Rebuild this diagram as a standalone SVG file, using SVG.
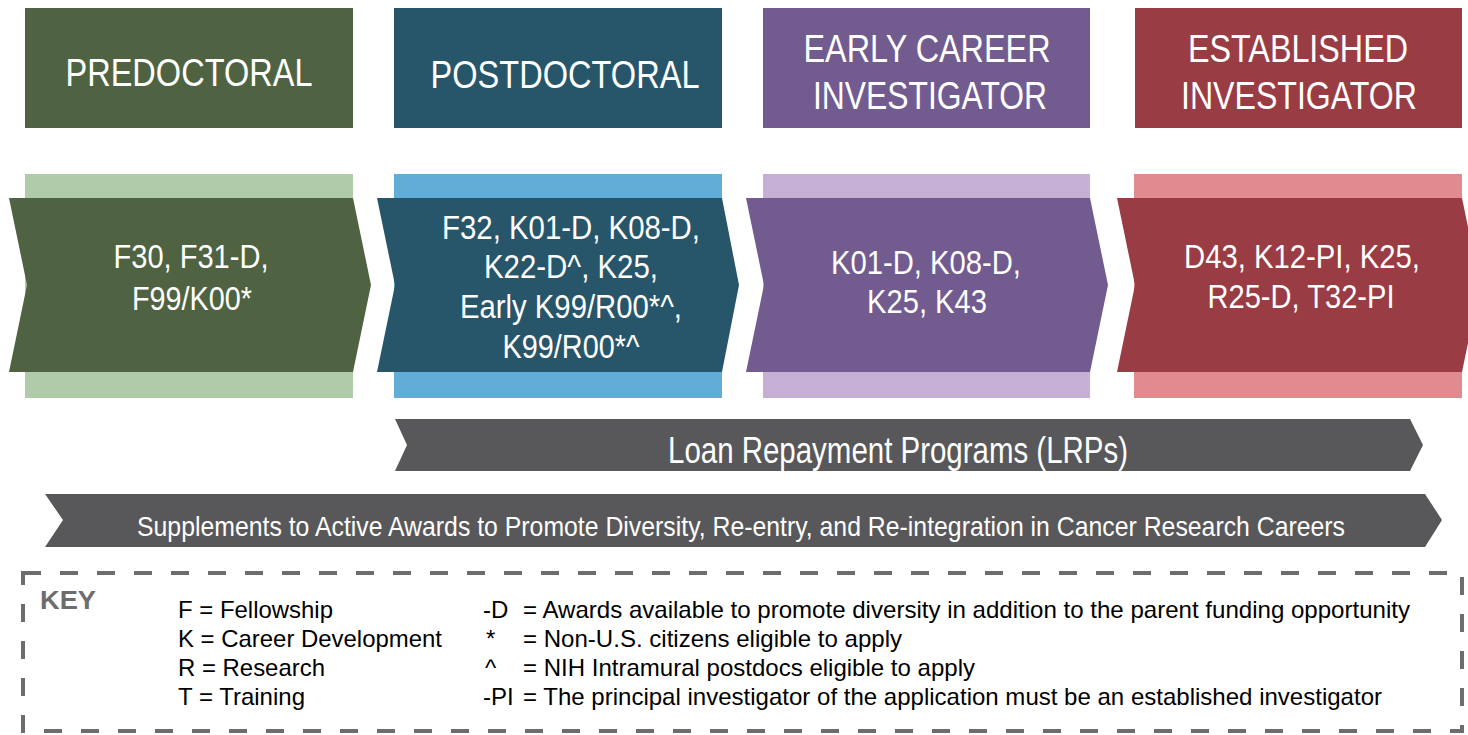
<svg xmlns="http://www.w3.org/2000/svg" width="1468" height="735" viewBox="0 0 1468 735">
<style>
text{font-family:"Liberation Sans Narrow","Liberation Sans",Arial,sans-serif}
.w{fill:#ffffff;text-anchor:middle}
.hd{font-size:38px}
.ch{font-size:34px}
.k{font-size:24px;fill:#000000}
.pre-d{fill:#4f6342}.pre-l{fill:#b0cba7}
.pos-d{fill:#27566b}.pos-l{fill:#62acd8}
.ear-d{fill:#725b8f}.ear-l{fill:#c5afd5}
.est-d{fill:#9a3c44}.est-l{fill:#e28b8e}
.bar{fill:#58585a}
</style>
<rect width="1468" height="735" fill="#ffffff"/>

<g id="head-predoc">
<rect class="pre-d" x="25" y="8" width="328" height="120"/>
<text class="w hd" x="189" y="86" textLength="247" lengthAdjust="spacingAndGlyphs">PREDOCTORAL</text>
</g>
<g id="head-postdoc">
<rect class="pos-d" x="394" y="8" width="328" height="120"/>
<text class="w hd" x="565" y="88" textLength="269" lengthAdjust="spacingAndGlyphs">POSTDOCTORAL</text>
</g>
<g id="head-early">
<rect class="ear-d" x="763" y="8" width="327" height="120"/>
<text class="w hd" x="927" y="62" textLength="247" lengthAdjust="spacingAndGlyphs">EARLY CAREER</text>
<text class="w hd" x="930" y="109" textLength="234" lengthAdjust="spacingAndGlyphs">INVESTIGATOR</text>
</g>
<g id="head-established">
<rect class="est-d" x="1135" y="8" width="327" height="120"/>
<text class="w hd" x="1298" y="62" textLength="220" lengthAdjust="spacingAndGlyphs">ESTABLISHED</text>
<text class="w hd" x="1299" y="109" textLength="236" lengthAdjust="spacingAndGlyphs">INVESTIGATOR</text>
</g>

<g id="stage-predoc">
<rect class="pre-l" x="25" y="174" width="328" height="224"/>
<polygon class="pre-d" points="9,198 353,198 371,285 353,372 9,372 27,285"/>
<text class="w ch" x="191" y="268" textLength="155" lengthAdjust="spacingAndGlyphs">F30, F31-D,</text>
<text class="w ch" x="192" y="310" textLength="120" lengthAdjust="spacingAndGlyphs">F99/K00*</text>
</g>
<g id="stage-postdoc">
<rect class="pos-l" x="394" y="174" width="328" height="224"/>
<polygon class="pos-d" points="377,198 722,198 739,285 722,372 377,372 395,285"/>
<text class="w ch" x="571" y="239" textLength="258" lengthAdjust="spacingAndGlyphs">F32, K01-D, K08-D,</text>
<text class="w ch" x="571" y="278" textLength="174" lengthAdjust="spacingAndGlyphs">K22-D^, K25,</text>
<text class="w ch" x="571" y="318" textLength="222" lengthAdjust="spacingAndGlyphs">Early K99/R00*^,</text>
<text class="w ch" x="571" y="358" textLength="137" lengthAdjust="spacingAndGlyphs">K99/R00*^</text>
</g>
<g id="stage-early">
<rect class="ear-l" x="763" y="174" width="327" height="224"/>
<polygon class="ear-d" points="746,198 1090,198 1108,285 1090,372 746,372 764,285"/>
<text class="w ch" x="926" y="274" textLength="190" lengthAdjust="spacingAndGlyphs">K01-D, K08-D,</text>
<text class="w ch" x="927" y="313" textLength="120" lengthAdjust="spacingAndGlyphs">K25, K43</text>
</g>
<g id="stage-established">
<rect class="est-l" x="1134" y="174" width="328" height="224"/>
<polygon class="est-d" points="1117,198 1462,198 1480,285 1462,372 1117,372 1135,285"/>
<text class="w ch" x="1302" y="268" textLength="236" lengthAdjust="spacingAndGlyphs">D43, K12-PI, K25,</text>
<text class="w ch" x="1301" y="308" textLength="187" lengthAdjust="spacingAndGlyphs">R25-D, T32-PI</text>
</g>

<g id="lrp">
<polygon class="bar" points="395,419 1410,419 1423,445 1410,471 395,471 407,445"/>
<text class="w" x="898" y="463" font-size="36" textLength="460" lengthAdjust="spacingAndGlyphs">Loan Repayment Programs (LRPs)</text>
</g>
<g id="supplements">
<polygon class="bar" points="45,494 1425,494 1442,520 1425,547 45,547 63,520"/>
<text class="w" x="741" y="536" font-size="28" textLength="1208" lengthAdjust="spacingAndGlyphs">Supplements to Active Awards to Promote Diversity, Re-entry, and Re-integration in Cancer Research Careers</text>
</g>

<g id="connectors"></g>

<g id="key">
<rect x="23" y="573" width="1439" height="158" fill="none" stroke="#6d6d6d" stroke-width="4" stroke-dasharray="18 19"/>
<text x="40" y="609" font-size="26" font-weight="bold" fill="#6d6d6d" textLength="56" lengthAdjust="spacingAndGlyphs">KEY</text>
<text class="k" x="178" y="618" textLength="155" lengthAdjust="spacingAndGlyphs">F = Fellowship</text>
<text class="k" x="178" y="647" textLength="264" lengthAdjust="spacingAndGlyphs">K = Career Development</text>
<text class="k" x="178" y="676" textLength="147" lengthAdjust="spacingAndGlyphs">R = Research</text>
<text class="k" x="178" y="705" textLength="127" lengthAdjust="spacingAndGlyphs">T = Training</text>
<text class="k" x="483" y="618">-D</text>
<text class="k" x="486" y="647">*</text>
<text class="k" x="485" y="676">^</text>
<text class="k" x="483" y="705">-PI</text>
<text class="k" x="523" y="618" textLength="887" lengthAdjust="spacingAndGlyphs">= Awards available to promote diversity in addition to the parent funding opportunity</text>
<text class="k" x="523" y="647" textLength="379" lengthAdjust="spacingAndGlyphs">= Non-U.S. citizens eligible to apply</text>
<text class="k" x="523" y="676" textLength="452" lengthAdjust="spacingAndGlyphs">= NIH Intramural postdocs eligible to apply</text>
<text class="k" x="523" y="705" textLength="859" lengthAdjust="spacingAndGlyphs">= The principal investigator of the application must be an established investigator</text>
</g>
</svg>
